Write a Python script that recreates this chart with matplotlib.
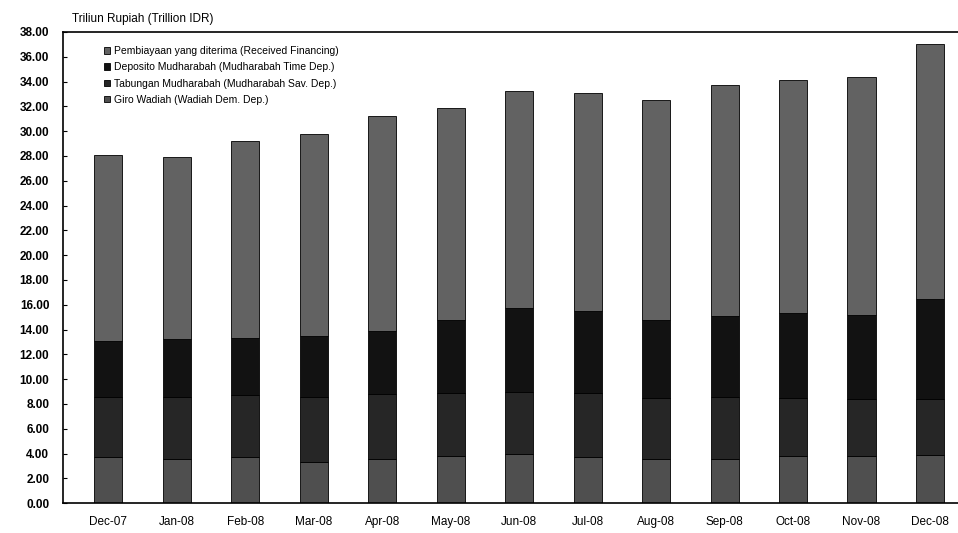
import matplotlib
matplotlib.use("Agg")
import matplotlib.pyplot as plt
import numpy as np

plt.rcParams['font.family'] = ['Liberation Sans', 'DejaVu Sans']

# bulan
bulan = ['Dec-07', 'Jan-08', 'Feb-08', 'Mar-08', 'Apr-08', 'May-08', 'Jun-08',
         'Jul-08', 'Aug-08', 'Sep-08', 'Oct-08', 'Nov-08', 'Dec-08']

# nilai per segmen (Triliun Rupiah), dari bawah ke atas
giro_wadiah = [3.7, 3.6, 3.7, 3.3, 3.6, 3.8, 4.0, 3.7, 3.6, 3.6, 3.8, 3.8, 3.9]
tabungan = [4.9, 5.0, 5.0, 5.3, 5.2, 5.1, 5.0, 5.2, 4.9, 5.0, 4.7, 4.6, 4.5]
deposito = [4.5, 4.6, 4.6, 4.9, 5.1, 5.9, 6.7, 6.6, 6.3, 6.5, 6.8, 6.8, 8.1]
pembiayaan = [15.0, 14.7, 15.9, 16.3, 17.3, 17.1, 17.5, 17.6, 17.7, 18.6, 18.8, 19.2, 20.5]

label_seri = ['Giro Wadiah (Wadiah Dem. Dep.)',
              'Tabungan Mudharabah (Mudharabah Sav. Dep.)',
              'Deposito Mudharabah (Mudharabah Time Dep.)',
              'Pembiayaan yang diterima (Received Financing)']
warna = ['#4f4f4f', '#262626', '#121212', '#626262']

fig = plt.figure(figsize=(9.58, 5.33), dpi=100)
ax = fig.add_axes([0.066, 0.056, 0.934, 0.884])

x = np.arange(len(bulan))
dasar = np.zeros(len(bulan))
handles = []
for data, lab, c in zip([giro_wadiah, tabungan, deposito, pembiayaan], label_seri, warna):
    b = ax.bar(x, data, width=0.41, bottom=dasar, color=c, edgecolor='black',
               linewidth=0.6, label=lab)
    handles.append(b)
    dasar += np.array(data)

ax.set_xlim(-0.66, 12.41)
ax.set_ylim(0, 38)
ax.set_yticks(np.arange(0, 39, 2))
ax.set_yticklabels(['%.2f' % v for v in np.arange(0, 39, 2)], fontsize=8.5, fontweight='bold')
ax.set_xticks(x)
ax.set_xticklabels(bulan, fontsize=8.5)
ax.tick_params(axis='y', direction='in', length=3, pad=10)
ax.tick_params(axis='x', length=0, pad=9)

ax.spines['right'].set_visible(False)
for s in ['left', 'bottom', 'top']:
    ax.spines[s].set_linewidth(1.2)

fig.text(0.075, 0.975, 'Triliun Rupiah (Trillion IDR)', fontsize=8.5, va='top', ha='left')

ax.legend(handles[::-1], label_seri[::-1], loc='upper left', bbox_to_anchor=(0.035, 0.99),
          frameon=False, fontsize=7.5, handlelength=0.6, handleheight=0.6,
          handletextpad=0.4, labelspacing=0.6)

fig.savefig('out.png', dpi=100)
